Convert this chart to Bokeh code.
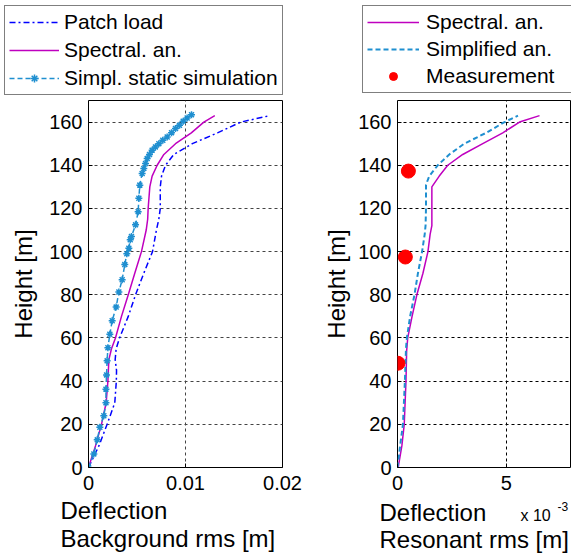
from bokeh.plotting import figure
from bokeh.models import (FixedTicker, Legend, LegendItem, Range1d, Label,
                          PrintfTickFormatter)
from bokeh.layouts import row, column
from bokeh.embed import file_html
from bokeh.resources import INLINE

# ---------------- data ----------------
patch_h = [0, 10, 20, 30, 40, 45, 50, 55, 60, 70, 80, 90, 100, 110, 115, 120,
           130, 135, 140, 145, 150, 155, 160, 163]
patch_v = [0, 0.00107, 0.00192, 0.00271, 0.00287, 0.00289, 0.00275, 0.00285,
           0.0032, 0.0041, 0.00485, 0.0057, 0.0066, 0.0070, 0.00725, 0.0074,
           0.0074, 0.00753, 0.00794, 0.0088, 0.0107, 0.0133, 0.0157, 0.0187]

spec_bg_h = [0, 10, 20, 30, 40, 50, 55, 60, 70, 80, 90, 100, 110, 115, 120,
             130, 135, 140, 145, 150, 155, 160, 163]
spec_bg_v = [0, 0.00072, 0.00134, 0.00182, 0.0020, 0.0021, 0.00237, 0.00278,
             0.0034, 0.0041, 0.00477, 0.00546, 0.00595, 0.0061, 0.00615,
             0.00632, 0.00656, 0.00708, 0.00777, 0.00897, 0.0106, 0.01189,
             0.01302]

simpl_h = [0, 6.3, 12.8, 18.6, 24, 30, 36.3, 42.9, 49.4, 55.5, 61.7, 68, 74.3,
           81.3, 87, 94, 99, 101.6, 105.5, 107, 112.4, 118.5, 124.7, 130.8,
           136.2, 138.5, 140.8, 143.1, 145, 147, 148.5, 150, 151.6, 153.1,
           155.1, 157, 158.5, 160.4, 161.9, 163.4]
simpl_v = [0, 0.00055, 0.0009, 0.00117, 0.00158, 0.0018, 0.0018, 0.00186,
           0.00192, 0.0020, 0.0022, 0.00244, 0.00285, 0.00313, 0.00347,
           0.00374, 0.00395, 0.00416, 0.0043, 0.00443, 0.00485, 0.00512,
           0.00519, 0.00529, 0.00553, 0.0057, 0.00588, 0.00605, 0.00629,
           0.00656, 0.0069, 0.00725, 0.00766, 0.00811, 0.00856, 0.00897,
           0.00938, 0.00976, 0.01017, 0.01062]

spec_res_h = [0, 10, 20, 40, 54, 60, 70, 80, 90, 100, 108, 112, 120, 130, 135,
              140, 145, 150, 155, 160, 163]
spec_res_v = [0.03, 0.2, 0.31, 0.39, 0.42, 0.47, 0.67, 0.89, 1.17, 1.4, 1.5,
              1.58, 1.58, 1.58, 1.92, 2.31, 3.0, 3.92, 4.84, 5.61, 6.53]

simp_res_h = [0, 10, 20, 40, 55, 60, 70, 80, 90, 100, 108, 112, 120, 131, 135,
              140, 145, 150, 155, 160, 163]
simp_res_v = [0, 0.12, 0.25, 0.34, 0.39, 0.43, 0.58, 0.78, 0.94, 1.13, 1.25,
              1.29, 1.31, 1.31, 1.46, 1.85, 2.38, 3.07, 4.07, 4.92, 5.54]

meas_h = [48.3, 97.5, 137.3]
meas_v = [0.02, 0.36, 0.5]

y_ticks = [0, 20, 40, 60, 80, 100, 120, 140, 160]
x_ticks_left = [0, 0.01, 0.02]
x_ticks_right = [0, 5]

FONT = "Liberation Sans"
BLUE = "#0000FF"
MAGENTA = "#BF00BF"
CYAN = "#1F8FD0"
RED = "#FF0000"
NAN2 = [float("nan"), float("nan")]   # legend-only proxies draw nothing

W1, W2 = 302, 269          # widths of left / right columns
H_TOP, H_PLOT, H_BOT = 100, 398, 58


def style(p, xticks, grid_color, ylabel_standoff):
    p.xaxis.ticker = FixedTicker(ticks=xticks)
    p.yaxis.ticker = FixedTicker(ticks=y_ticks)
    for ax in (p.xaxis[0], p.yaxis[0]):
        ax.axis_line_color = None
        ax.major_tick_in = 4
        ax.major_tick_out = 0
        ax.major_tick_line_color = "black"
        ax.minor_tick_line_color = None
        ax.major_label_text_font = FONT
        ax.major_label_text_font_size = "20px"
        ax.major_label_text_color = "black"
    p.xaxis.major_label_standoff = 8
    p.yaxis.major_label_standoff = 6
    p.yaxis.axis_label = "Height [m]"
    p.yaxis.axis_label_text_font = FONT
    p.yaxis.axis_label_text_font_size = "24px"
    p.yaxis.axis_label_text_font_style = "normal"
    p.yaxis.axis_label_text_color = "black"
    p.yaxis.axis_label_standoff = ylabel_standoff
    for g in (p.xgrid[0], p.ygrid[0]):
        g.grid_line_color = grid_color
        g.grid_line_dash = "3 3"
        g.grid_line_width = 1
    p.outline_line_color = "black"
    p.outline_line_width = 1


def blank(width, height):
    b = figure(width=width, height=height, x_range=Range1d(0, width),
               y_range=Range1d(0, height), x_axis_type=None,
               y_axis_type=None, min_border=0, output_backend="svg",
               toolbar_location=None)
    b.outline_line_color = None
    return b


def text(b, s, x, y, size=24):
    # alphabetic baseline sits ~0.375 em above the requested y here
    b.add_layout(Label(x=x, y=y + 0.375 * size, text=s, text_font=FONT,
                       text_font_size=f"{size}px", text_color="black",
                       text_align="left", text_baseline="alphabetic"))


def make_legend(items, loc, label_width, glyph_width, standoff, spacing):
    return Legend(items=items, location=loc, orientation="vertical",
                  label_text_font=FONT, label_text_font_size="21px",
                  label_text_color="black", glyph_width=glyph_width,
                  glyph_height=20, label_height=20, label_width=label_width,
                  label_standoff=standoff, padding=4, spacing=spacing,
                  margin=0, border_line_color="black", border_line_width=1,
                  background_fill_color="white", background_fill_alpha=1)


# ---------------- left panel ----------------
p1 = figure(width=W1, height=H_PLOT, x_range=Range1d(0, 0.02),
            y_range=Range1d(0, 170), output_backend="svg",
            toolbar_location=None, min_border_left=88, min_border_right=20,
            min_border_top=0, min_border_bottom=31)
style(p1, x_ticks_left, "#444444", 9)
p1.xaxis.formatter = PrintfTickFormatter(format="%g")

p1.line(patch_v, patch_h, line_color=BLUE, line_width=1.5,
        line_dash="6 3 2 3")
p1.line(spec_bg_v, spec_bg_h, line_color=MAGENTA, line_width=1.5)
p1.line(simpl_v, simpl_h, line_color=CYAN, line_width=1.5, line_dash="5 3")
p1.scatter(simpl_v, simpl_h, marker="asterisk", size=7, line_color=CYAN,
           line_width=1.5)

# legend strip above the left panel
h1 = blank(W1, H_TOP)
g_patch = h1.line(NAN2, NAN2, line_color=BLUE, line_width=1.5,
                  line_dash="6 3 2 3")
g_spec = h1.line(NAN2, NAN2, line_color=MAGENTA, line_width=1.5)
g_siml = h1.line(NAN2, NAN2, line_color=CYAN, line_width=1.5,
                 line_dash="5 3")
g_simm = h1.scatter(NAN2, NAN2, marker="asterisk", size=7, line_color=CYAN,
                    line_width=1.5)
h1.add_layout(make_legend([
    LegendItem(label="Patch load", renderers=[g_patch]),
    LegendItem(label="Spectral. an.", renderers=[g_spec]),
    LegendItem(label="Simpl. static simulation", renderers=[g_siml, g_simm]),
], (4, 5), 20, 50, 5, 4))

# axis title strip below the left panel
b1 = blank(W1, H_BOT)
text(b1, "Deflection", 60, 37)
text(b1, "Background rms [m]", 60, 9)

# ---------------- right panel ----------------
p2 = figure(width=W2, height=H_PLOT, x_range=Range1d(0, 8),
            y_range=Range1d(0, 170), output_backend="svg",
            toolbar_location=None, min_border_left=95, min_border_right=0,
            min_border_top=0, min_border_bottom=31)
style(p2, x_ticks_right, "black", 5)

p2.line(spec_res_v, spec_res_h, line_color=MAGENTA, line_width=1.5)
p2.line(simp_res_v, simp_res_h, line_color=CYAN, line_width=2,
        line_dash="5 3")
p2.scatter(meas_v, meas_h, marker="circle", size=14, fill_color=RED,
           line_color=RED)

h2 = blank(W2, H_TOP)
g_spec2 = h2.line(NAN2, NAN2, line_color=MAGENTA, line_width=1.5)
g_simp2 = h2.line(NAN2, NAN2, line_color=CYAN, line_width=2,
                  line_dash="5 3")
g_meas = h2.scatter(NAN2, NAN2, marker="circle", size=14, fill_color=RED,
                    line_color=RED)
h2.add_layout(make_legend([
    LegendItem(label="Spectral. an.", renderers=[g_spec2]),
    LegendItem(label="Simplified an.", renderers=[g_simp2]),
    LegendItem(label="Measurement", renderers=[g_meas]),
], (60, 7), 141, 52, 7, 3))

b2 = blank(W2, H_BOT)
text(b2, "Deflection", 77, 35)
text(b2, "Resonant rms [m]", 77, 8)
text(b2, "x 10", 218, 35, 16)
text(b2, "-3", 255, 46, 12)

layout = column(row(h1, h2), row(p1, p2), row(b1, b2))
open("out.html", "w").write(file_html(layout, INLINE))
